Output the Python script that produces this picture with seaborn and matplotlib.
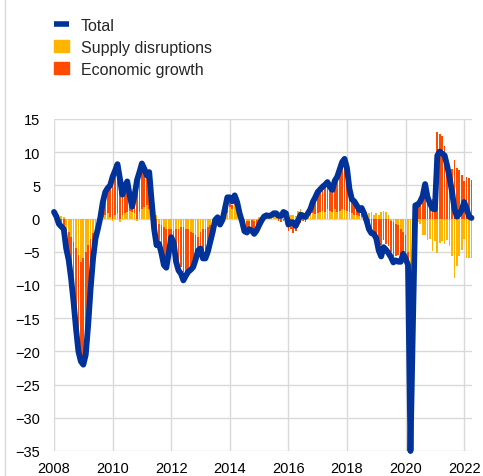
import matplotlib
matplotlib.use("Agg")
import matplotlib.pyplot as plt
from matplotlib.lines import Line2D
from matplotlib.patches import Patch
import numpy as np
import pandas as pd
import seaborn as sns

# monthly values, Jan 2008 .. Apr 2022
total = [
    1.0, 0.3, -0.8, -1.2, -1.6, -4.5, -6.2, -9.0, -12.5, -16.5, -20.0, -21.5,
    -22.0, -20.5, -16.0, -10.5, -6.0, -3.0, -1.5, 0.2, 2.5, 4.0, 4.6, 5.0,
    6.3, 7.2, 8.2, 6.0, 3.6, 4.8, 5.6, 3.5, 1.8, 3.5, 5.8, 7.0,
    8.3, 7.5, 6.5, 7.0, 2.6, -1.5, -4.0, -3.8, -5.2, -7.0, -7.4, -5.2,
    -2.8, -3.6, -6.5, -7.8, -8.3, -9.3, -8.6, -8.0, -7.7, -7.3, -6.2, -4.8,
    -4.5, -6.0, -6.0, -5.0, -3.5, -2.0, -0.2, 0.2, -0.9, -0.2, 1.5, 3.2,
    3.2, 2.6, 3.5, 2.5, 0.8, -0.4, -1.9, -2.1, -1.6, -1.8, -2.3, -1.8,
    -1.0, -0.3, 0.3, 0.5, 0.4, 0.5, 0.8, 0.8, 0.4, 0.4, 1.0, 0.8,
    -0.9, -0.6, -0.6, -1.1, -0.3, 0.6, 0.4, 0.25, 0.8, 1.4, 2.5, 3.2,
    4.0, 4.4, 4.8, 5.1, 5.5, 4.8, 4.3, 5.7, 6.3, 7.4, 8.5, 9.0,
    7.6, 4.5, 2.9, 2.6, 2.0, 1.3, 1.6, 0.8, -0.3, -1.6, -2.2, -2.3,
    -3.0, -4.8, -5.7, -4.3, -4.7, -5.2, -5.8, -6.6, -6.3, -6.5, -6.5, -5.3,
    -6.0, -7.0, -35.0, -16.0, 2.0, 2.1, 2.6, 3.4, 5.2, 3.2, 2.3, 1.5,
    1.4, 9.5, 10.1, 9.8, 9.5, 8.0, 6.2, 4.1, 1.5, 0.3, 0.7, 1.3,
    2.5, 1.5, 0.3, 0.1,
]

supply = [
    0.2, 0.1, -0.3, 0.4, 0.3, -1.5, -2.0, -2.8, -3.5, -4.5, -5.5, -6.5,
    -6.0, -5.0, -4.0, -3.0, -2.2, -1.5, -1.0, -0.3, 0.3, 0.5, 0.8, 0.3,
    -0.4, 0.5, 0.8, -0.5, 0.6, 0.8, 1.0, 1.2, 1.0, 0.8, -0.3, 1.0,
    1.5, 1.8, 2.0, 1.5, 0.8, 0.5, 0.6, -0.8, -1.0, -1.2, -1.5, -1.5,
    -1.5, -1.8, -1.5, -1.5, -1.3, -1.3, -1.5, -1.5, -2.0, -2.2, -2.5, -2.8,
    -2.0, -1.5, -1.5, -1.2, -1.0, -0.5, -0.3, 0.3, -0.3, 0.2, 0.5, 0.8,
    1.8, 1.5, 2.0, 1.5, 0.5, -0.3, -0.5, -0.4, -0.3, -0.2, -0.3, -0.2,
    0.2, 0.3, 0.4, 0.5, 0.3, 0.6, 0.9, 0.8, 0.5, 0.9, 1.3, 1.0,
    0.8, 0.5, 0.6, 0.4, 1.2, 1.5, 1.0, 0.8, 0.9, 1.0, 0.8, 0.7,
    0.8, 1.0, 1.2, 1.0, 1.5, 1.2, 1.0, 1.5, 1.0, 1.2, 1.5, 1.3,
    1.2, 1.0, 0.8, 0.6, 0.5, 0.4, 0.3, -0.3, -0.5, 0.8, 1.0, 0.6,
    0.8, 0.5, 1.0, 1.2, 1.0, 0.6, -0.3, -0.5, -0.8, -1.0, -1.5, -2.0,
    -2.5, -5.0, -14.0, -6.0, -1.0, -0.5, -0.8, -2.4, -2.5, -3.2, -3.0, -4.9,
    -3.4, -5.2, -3.7, -3.4, -3.9, -3.2, -4.2, -5.7, -8.9, -7.2, -5.7, -4.7,
    -3.0, -5.9, -5.9, -5.9,
]

growth = [
    0.5, 0.2, -0.4, -0.8, -1.4, -2.5, -3.8, -5.5, -8.0, -11.0, -13.5, -14.5,
    -15.0, -14.5, -11.5, -7.5, -4.5, -2.0, -0.8, 0.3, 1.8, 3.0, 3.5, 4.3,
    6.0, 6.3, 7.0, 5.5, 3.0, 3.8, 4.2, 2.3, 1.0, 2.5, 4.5, 5.5,
    6.2, 5.3, 4.5, 4.5, 1.5, 0.2, -3.0, -2.8, -3.5, -4.8, -5.0, -3.8,
    -2.5, -3.0, -4.5, -5.5, -6.0, -6.8, -6.5, -6.2, -5.5, -5.0, -4.0, -3.0,
    -2.5, -3.5, -3.2, -2.8, -2.0, -1.2, -0.5, -0.3, -0.5, 0.3, 0.8, 1.5,
    0.8, 0.6, 0.8, 0.5, 0.2, -0.2, -1.0, -1.3, -1.0, -1.2, -1.5, -1.2,
    -0.8, -0.6, -0.2, 0.2, 0.4, 0.3, 0.2, 0.3, -0.3, -0.5, -0.3, -0.4,
    -1.8, -1.5, -2.2, -1.8, -1.0, -0.6, -0.3, -0.5, 0.3, 0.8, 1.5, 2.2,
    3.0, 3.2, 3.5, 3.8, 4.0, 3.2, 2.8, 4.0, 4.8, 5.8, 6.8, 7.5,
    5.5, 3.0, 2.0, 1.8, 1.4, 1.0, 1.2, 0.8, -0.2, -1.5, -2.0, -2.2,
    -2.5, -3.5, -4.0, -3.2, -3.8, -4.2, -4.8, -5.2, -4.8, -4.5, -4.0, -3.0,
    -2.5, -1.5, -2.0, -1.0, 1.5, 2.5, 2.4, 3.9, 5.1, 4.1, 2.5, 3.0,
    3.5, 13.0, 12.8, 12.4, 10.9, 9.0, 8.0, 7.4, 8.9, 7.6, 7.3, 6.6,
    5.6, 6.3, 6.1, 5.8,
]

year_ticks = [2008, 2010, 2012, 2014, 2016, 2018, 2020, 2022]
y_ticks = [15, 10, 5, 0, -5, -10, -15, -20, -25, -30, -35]

BLUE = "#003299"
YELLOW = "#FFB400"
ORANGE = "#FF4B00"
GRID = "#d9d9d9"

df = pd.DataFrame({"total": total, "supply": supply, "growth": growth})
df["t"] = 2008 + np.arange(len(df)) / 12.0
# growth stacks on supply when both point the same way
same_sign = np.sign(df["supply"]) == np.sign(df["growth"])
df["g_bottom"] = np.where(same_sign, df["supply"], 0.0)

sns.set_theme(style="whitegrid")
plt.rcParams["font.family"] = ["Liberation Sans", "DejaVu Sans"]

fig = plt.figure(figsize=(4.83, 4.77), dpi=100)
ax = fig.add_axes([54 / 483, 1 - 452 / 477, (471.5 - 54) / 483, 332 / 477])

bw = 0.7 / 12
ax.bar(df["t"], df["supply"], width=bw, color=YELLOW, linewidth=0, zorder=2)
ax.bar(df["t"], df["growth"], bottom=df["g_bottom"], width=bw, color=ORANGE,
       linewidth=0, zorder=2)
sns.lineplot(data=df, x="t", y="total", ax=ax, color=BLUE, linewidth=4.2,
             zorder=3, clip_on=False, solid_joinstyle="round",
             solid_capstyle="round")

ax.set_xlim(2008, 2022.25)
ax.set_ylim(-35, 15)
ax.set_xticks(year_ticks)
ax.set_yticks(y_ticks)
ax.set_xlabel("")
ax.set_ylabel("")
ax.set_facecolor("white")
ax.grid(True, color=GRID, linewidth=1.0)
for side in ax.spines.values():
    side.set_visible(False)
ax.tick_params(axis="both", length=0, labelsize=10.5, colors="black")
ax.tick_params(axis="x", pad=7)
ax.tick_params(axis="y", pad=10)

handles = [
    Line2D([0], [0], color=BLUE, linewidth=4, solid_capstyle="butt"),
    Patch(color=YELLOW),
    Patch(color=ORANGE),
]
fig.legend(handles, ["Total", "Supply disruptions", "Economic growth"],
           loc="upper left", bbox_to_anchor=(54 / 483, 1 - 19 / 477),
           frameon=False, fontsize=11.5, handlelength=0.94, handleheight=0.81,
           handletextpad=0.75, labelspacing=0.43, borderpad=0, borderaxespad=0)

fig.add_artist(Line2D([5 / 483, 5 / 483], [0, 1], color=GRID, linewidth=1.0))

fig.savefig("out.png", dpi=100)
